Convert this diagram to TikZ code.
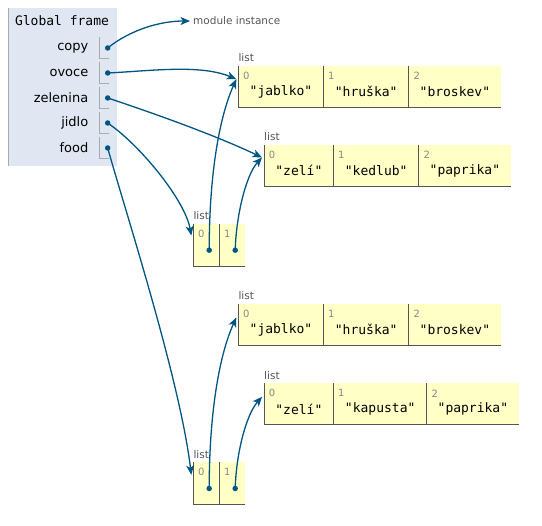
\documentclass[tikz,border=0pt]{standalone}
\usepackage{fontspec}
\setmainfont{DejaVu Sans}
\newfontfamily\pymono{DejaVu Sans Mono}
\usetikzlibrary{arrows.meta,calc}
\definecolor{ptblue}{HTML}{005583}
\definecolor{framebg}{HTML}{E0E7F3}
\definecolor{framebar}{HTML}{AAAAAA}
\definecolor{cellbg}{HTML}{FFFFC6}
\definecolor{cellline}{HTML}{555555}
\definecolor{lbl}{HTML}{555555}
\definecolor{idxgray}{HTML}{888888}
\tikzset{
  ptr/.style={ptblue, line width=1.3pt, -{Stealth[length=9.5pt,width=8pt,inset=2.5pt]}},
  ptrdot/.style={circle, fill=ptblue, inner sep=0pt, minimum size=5.5pt},
  varname/.style={anchor=east, inner sep=0pt, font=\fontsize{13}{15}\selectfont},
  cellbox/.style={fill=cellbg, inner sep=0pt, minimum height=41pt, anchor=north west},
  smallcell/.style={cellbox, minimum height=42pt},
  idxtext/.style={idxgray, inner sep=0pt, font=\fontsize{10}{12}\selectfont},
  valtext/.style={inner sep=0pt, font=\pymono\fontsize{13}{15}\selectfont},
  listlabel/.style={lbl, anchor=base west, inner sep=0pt, font=\fontsize{10.5}{12}\selectfont},
}
\newcommand\pycell[7]{% style, name, x, y(top, negative), width, index, value
  \node[#1, minimum width=#5pt] (#2) at (#3,#4) {};
  \draw[cellline, line width=1pt] (#2.north west) -- (#2.south west) -- (#2.south east);
  \node[idxtext] (#2i) at ($(#2.north west)+(8,-10)$) {#6};
  \node[valtext] (#2v) at ($(#2.center)+(0,-5)$) {#7};
}
\begin{document}
\begin{tikzpicture}[x=1pt,y=1pt]
\useasboundingbox (0,0) rectangle (542,-526);
% global frame
\node[fill=framebg, inner sep=0pt, minimum width=109pt, minimum height=158pt, anchor=north west] (gf) at (8,-8) {};
\draw[framebar, line width=1pt] (gf.north west) -- (gf.south west);
\node[inner sep=0pt, font=\pymono\fontsize{13}{15}\selectfont] (gft) at (62,-21) {Global frame};
\foreach \nm/\yy in {copy/48, ovoce/73, zelenina/98, jidlo/123, food/148}{
  \node[varname] (v\nm) at (88.5,-\yy) {\nm};
  \draw[framebar, line width=1pt] (99.5,-\yy+11) -- (99.5,-\yy-11) -- (108.5,-\yy-11);
  \node[ptrdot] (d\nm) at (107.7,-\yy) {};
}
\node[lbl, anchor=west, inner sep=3pt, font=\fontsize{10.5}{12}\selectfont] (modinst) at (190,-21) {module instance};

% list 1
\node[listlabel] (L1lab) at (238.3,-61.7) {list};
\pycell{cellbox}{La}{238.3}{-65.7}{85}{0}{"jablko"}
\pycell{cellbox}{Lb}{323.3}{-65.7}{85.4}{1}{"hruška"}
\pycell{cellbox}{Lc}{408.7}{-65.7}{92}{2}{"broskev"}
% list 2
\node[listlabel] (L2lab) at (264,-141) {list};
\pycell{cellbox}{Ma}{264}{-145}{69.3}{0}{"zelí"}
\pycell{cellbox}{Mb}{333.3}{-145}{85.4}{1}{"kedlub"}
\pycell{cellbox}{Mc}{418.7}{-145}{92}{2}{"paprika"}
% small list 1
\node[listlabel] (S1lab) at (193.3,-220) {list};
\pycell{smallcell}{Sa}{193.3}{-224}{26}{0}{}
\pycell{smallcell}{Sb}{219.3}{-224}{25}{1}{}
\node[ptrdot] (dSa) at ($(Sa.center)+(2.7,-5)$) {};
\node[ptrdot] (dSb) at ($(Sb.center)+(3.2,-5)$) {};
% list 3
\node[listlabel] (L3lab) at (238.3,-300) {list};
\pycell{cellbox}{Na}{238.3}{-304}{85}{0}{"jablko"}
\pycell{cellbox}{Nb}{323.3}{-304}{85.4}{1}{"hruška"}
\pycell{cellbox}{Nc}{408.7}{-304}{92}{2}{"broskev"}
% list 4
\node[listlabel] (L4lab) at (264,-379.3) {list};
\pycell{cellbox}{Pa}{264}{-383.3}{69.3}{0}{"zelí"}
\pycell{cellbox}{Pb}{333.3}{-383.3}{93.4}{1}{"kapusta"}
\pycell{cellbox}{Pc}{426.7}{-383.3}{92}{2}{"paprika"}
% small list 2
\node[listlabel] (S2lab) at (193.3,-458.3) {list};
\pycell{smallcell}{Ta}{193.3}{-462.3}{26}{0}{}
\pycell{smallcell}{Tb}{219.3}{-462.3}{25}{1}{}
\node[ptrdot] (dTa) at ($(Ta.center)+(2.7,-5)$) {};
\node[ptrdot] (dTb) at ($(Tb.center)+(3.2,-5)$) {};

% arrow targets
\coordinate (inL1) at ($(La.north west)+(-2,-13.5)$);
\coordinate (inL2) at ($(Ma.north west)+(-2,-12.5)$);
\coordinate (inS1) at ($(Sa.north west)+(-2,-11.5)$);
\coordinate (inL3) at ($(Na.north west)+(-2,-13.5)$);
\coordinate (inL4) at ($(Pa.north west)+(-2,-13.5)$);
\coordinate (inS2) at ($(Ta.north west)+(-2,-12.5)$);

% pointers
\draw[ptr] (dcopy.center) .. controls (130,-30) and (160,-21) .. (modinst.west);
\draw[ptr] (dovoce.center) .. controls (150,-71) and (200,-64) .. (inL1);
\draw[ptr] (dzelenina.center) .. controls (150,-112) and (215,-135) .. (inL2);
\draw[ptr] (djidlo.center) .. controls (140,-145) and (185,-200) .. (inS1);
\draw[ptr] (dfood.center) .. controls (125,-210) and (180,-380) .. (inS2);
\draw[ptr] (dSa.center) .. controls ($(dSa.center)+(0,70)$) and (218,-120) .. (inL1);
\draw[ptr] (dSb.center) .. controls ($(dSb.center)+(1,35)$) and (246,-175) .. (inL2);
\draw[ptr] (dTa.center) .. controls ($(dTa.center)+(0,70)$) and (218,-358) .. (inL3);
\draw[ptr] (dTb.center) .. controls ($(dTb.center)+(1,35)$) and (246,-415) .. (inL4);
\end{tikzpicture}
\end{document}
